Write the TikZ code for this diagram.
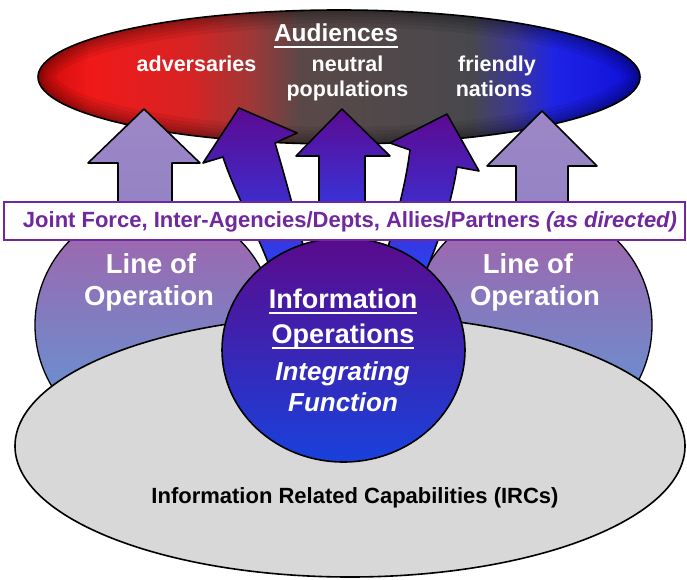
\documentclass[tikz,border=0pt]{standalone}
\usepackage{fontspec}
\setmainfont{Liberation Sans}
\usetikzlibrary{calc}
\definecolor{ioPurple}{RGB}{112,40,158}
\definecolor{audRedD}{RGB}{205,10,10}
\definecolor{audRed}{RGB}{240,25,25}
\definecolor{audRedB}{RGB}{215,35,35}
\definecolor{audMix}{RGB}{160,55,55}
\definecolor{audGrayA}{RGB}{90,72,72}
\definecolor{audGray}{RGB}{72,72,76}
\definecolor{audBlueMix}{RGB}{60,55,150}
\definecolor{audBlue}{RGB}{30,35,230}
\definecolor{audBlueD}{RGB}{15,15,215}
\definecolor{arrTop}{RGB}{92,10,145}
\definecolor{arrMid}{RGB}{78,25,195}
\definecolor{arrBot}{RGB}{40,70,250}
\definecolor{liteTop}{RGB}{157,135,198}
\definecolor{liteBot}{RGB}{145,130,196}
\definecolor{looTop}{RGB}{166,96,168}
\definecolor{looBot}{RGB}{89,156,219}
\definecolor{ioTop}{RGB}{90,10,140}
\definecolor{ioMid}{RGB}{62,30,182}
\definecolor{ioBot}{RGB}{25,65,220}
\definecolor{ircGray}{RGB}{216,216,216}
\pgfdeclarehorizontalshading{audshade}{100bp}{color(0bp)=(audRedD); color(25bp)=(audRedD); color(29.3bp)=(audRed); color(37.6bp)=(audRedB); color(42.6bp)=(audMix); color(46.8bp)=(audGrayA); color(60.9bp)=(audGray); color(64.6bp)=(audBlueMix); color(67.9bp)=(audBlue); color(75bp)=(audBlueD); color(100bp)=(audBlueD)}
\newcommand\fsz[1]{\fontsize{#1}{#1}\selectfont}
\newcommand\undl[1]{%
  \draw[white, line width=2pt] ($(#1.base west)+(0,5)$) -- ($(#1.base east)+(0,5)$);}
\tikzset{
  whtxt/.style={text=white, inner sep=0pt, anchor=base},
  outl/.style={draw=black, line width=1.6pt, line join=round},
  litearrow/.style={outl, top color=liteTop, bottom color=liteBot},
  darkarrow/.style={outl, top color=arrTop, middle color=arrMid, bottom color=arrBot},
  loo/.style={outl, line width=1.3pt, top color=looTop, bottom color=looBot},
  vign/.style={black, opacity=.07},
}
\begin{document}
\begin{tikzpicture}[x=1pt,y=-1pt]
\useasboundingbox (0,0) rectangle (687,580);
% Audiences ellipse
\path[shading=audshade] (339,77) ellipse [x radius=301, y radius=67];
\begin{scope}
  \clip (339,77) ellipse [x radius=301, y radius=67];
  \foreach \w in {34,26,19,13,8,4}
    \draw[vign, line width=\w pt] (339,77) ellipse [x radius=301, y radius=67];
\end{scope}
\draw[black, line width=1.6pt] (339,77) ellipse [x radius=301, y radius=67];
% Line of Operation circles
\path[loo] (155,325) circle [radius=120];
\path[loo] (532,325) circle [radius=120];
% straight light arrows
\path[litearrow] (118,238) -- (118,163) -- (88,163) -- (144,109) -- (200,163) -- (172,163) -- (172,238) -- cycle;
\path[litearrow] (516,238) -- (516,166) -- (487,166) -- (542,111) -- (597,166) -- (568,166) -- (568,238) -- cycle;
% dark arrows
\path[darkarrow] (319,250) -- (319,156) -- (296,156) -- (342,109) -- (390,156) -- (365,156) -- (365,250) -- cycle;
\path[darkarrow] (274,280) .. controls (262,240) and (235,195) .. (223,157) -- (203,163) -- (239,108) -- (297,133) -- (275,143) .. controls (286,180) and (298,225) .. (312,280) -- cycle;
\path[darkarrow] (378,280) .. controls (392,235) and (405,190) .. (410,150) -- (390,143) -- (447,114) -- (479,171) -- (457,167) .. controls (452,200) and (440,240) .. (422,280) -- cycle;
% IRC ellipse
\path[outl, fill=ircGray] (350,446) ellipse [x radius=335, y radius=131];
% Information Operations circle
\path[outl, top color=ioTop, middle color=ioMid, bottom color=ioBot] (343.5,350) ellipse [x radius=121.5, y radius=112];
% Joint force box
\draw[ioPurple, line width=1.5pt, fill=white] (4,202) rectangle (685,240);
\node[anchor=base, inner sep=0pt, text=ioPurple, font=\bfseries\fsz{22}] (jf) at (350,227.5) {Joint Force, Inter-Agencies/Depts, Allies/Partners \textit{(as directed)}};
% Audiences texts
\node[whtxt, font=\bfseries\fsz{24.5}] (aud) at (336,42) {Audiences};
\undl{aud}
\node[whtxt, font=\bfseries\fsz{21.5}] (adv) at (196.5,72) {adversaries};
\node[whtxt, font=\bfseries\fsz{21.5}] (neu) at (347.5,72) {neutral};
\node[whtxt, font=\bfseries\fsz{21.5}] (pop) at (347.5,97) {populations};
\node[whtxt, font=\bfseries\fsz{21.5}] (fri) at (497,72) {friendly};
\node[whtxt, font=\bfseries\fsz{21.5}] (nat) at (494,97) {nations};
% Line of Operation texts
\node[whtxt, font=\bfseries\fsz{27.5}] (lol1) at (151,273) {Line of};
\node[whtxt, font=\bfseries\fsz{27.5}] (lol2) at (149,305) {Operation};
\node[whtxt, font=\bfseries\fsz{27.5}] (lor1) at (528,273) {Line of};
\node[whtxt, font=\bfseries\fsz{27.5}] (lor2) at (535,305) {Operation};
% IO texts
\node[whtxt, font=\bfseries\fsz{27}] (io1) at (343,308) {Information};
\undl{io1}
\node[whtxt, font=\bfseries\fsz{27}] (io2) at (343,343) {Operations};
\undl{io2}
\node[whtxt, font=\bfseries\itshape\fsz{26}] (io3) at (342.5,380) {Integrating};
\node[whtxt, font=\bfseries\itshape\fsz{26}] (io4) at (343,411) {Function};
% IRC text
\node[anchor=base, inner sep=0pt, text=black, font=\bfseries\fsz{22}] (irc) at (355,503) {Information Related Capabilities (IRCs)};
\end{tikzpicture}
\end{document}
